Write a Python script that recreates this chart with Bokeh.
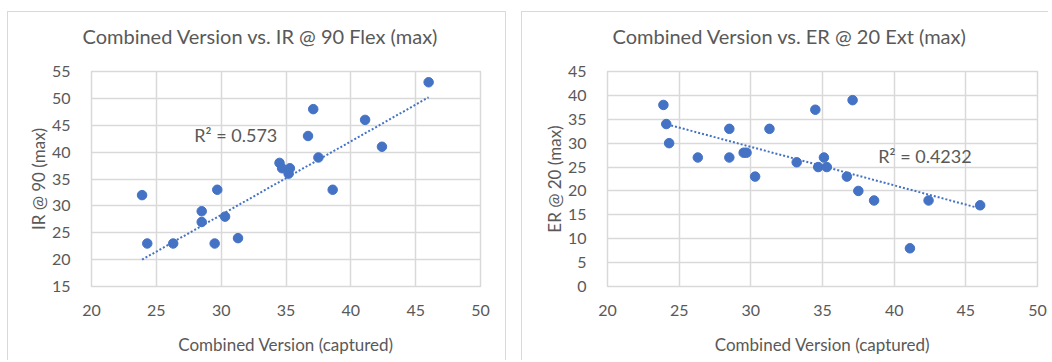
import numpy as np
from bokeh.plotting import figure
from bokeh.layouts import row
from bokeh.models import FixedTicker, Range1d, Label
from bokeh.embed import file_html
from bokeh.resources import INLINE

# Chart 1: Combined Version vs. IR @ 90 Flex (max)
x_ir = [23.9, 24.3, 26.3, 28.5, 28.5, 29.5, 29.7, 30.3, 31.3, 34.5,
        34.7, 35.2, 35.3, 36.7, 37.1, 37.5, 38.6, 41.1, 42.4, 46.0]
ir_90 = [32, 23, 23, 29, 27, 23, 33, 28, 24, 38,
         37, 36, 37, 43, 48, 39, 33, 46, 41, 53]
# linear trendline (slope, intercept) as shown in the chart
trend_ir = [1.367, -12.68]

# Chart 2: Combined Version vs. ER @ 20 Ext (max)
x_er = [23.9, 24.1, 24.3, 26.3, 28.5, 28.5, 29.5, 29.7, 30.3, 31.3, 33.2,
        34.5, 34.7, 35.1, 35.3, 36.7, 37.1, 37.5, 38.6, 41.1, 42.4, 46.0]
er_20 = [38, 34, 30, 27, 27, 33, 28, 28, 23, 33, 26,
         37, 25, 27, 25, 23, 39, 20, 18, 8, 18, 17]
trend_er = [-0.806, 53.41]

titles = ["Combined Version vs. IR @ 90 Flex (max)", "Combined Version vs. ER @ 20 Ext (max)"]
y_titles = ["IR @ 90 (max)", "ER @ 20 (max)"]
x_title = "Combined Version (captured)"
r2_labels = ["R² = 0.573", "R² = 0.4232"]
x_ticks = [20, 25, 30, 35, 40, 45, 50]
y_ticks_ir = [15, 20, 25, 30, 35, 40, 45, 50, 55]
y_ticks_er = [0, 5, 10, 15, 20, 25, 30, 35, 40, 45]

FONT = "Lato"
TXT = "#595959"
GRID = "#d9d9d9"
BLUE = "#4472C4"


def make(xs, ys, trend, title, ytitle, yticks, r2, r2pos, width, bl, br, toff, styles):
    p = figure(width=width, height=349, output_backend="svg", toolbar_location=None,
               x_range=Range1d(20, 50), y_range=Range1d(yticks[0], yticks[-1]),
               min_border_left=bl, min_border_right=br,
               min_border_top=59, min_border_bottom=75)
    p.title.text = title + "\n "
    p.title.text_font = FONT
    p.title.text_font_size = "20px"
    p.title.text_font_style = "normal"
    p.title.text_color = TXT
    p.title.align = "left"
    p.title.offset = toff
    p.title.standoff = 0
    for ax in (p.xaxis[0], p.yaxis[0]):
        ax.axis_line_color = None
        ax.major_tick_line_color = None
        ax.minor_tick_line_color = None
        ax.major_label_text_font = FONT
        ax.major_label_text_font_size = "16px"
        ax.major_label_text_color = TXT
        ax.axis_label_text_font = FONT
        ax.axis_label_text_font_size = "17px"
        ax.axis_label_text_font_style = "normal"
        ax.axis_label_text_color = TXT
    p.xaxis.ticker = FixedTicker(ticks=x_ticks)
    p.yaxis.ticker = FixedTicker(ticks=yticks)
    p.xaxis.axis_label = x_title
    p.yaxis.axis_label = ytitle
    p.xaxis.major_label_standoff = 12
    p.yaxis.major_label_standoff = 15
    p.xaxis.axis_label_standoff = 15
    p.yaxis.axis_label_standoff = 0
    p.xgrid.ticker = FixedTicker(ticks=x_ticks)
    p.ygrid.ticker = FixedTicker(ticks=yticks)
    p.grid.grid_line_color = GRID
    p.grid.grid_line_width = 1.5
    p.outline_line_color = GRID
    p.outline_line_width = 1.5

    lx = np.array([min(xs), max(xs)])
    ly = trend[0] * lx + trend[1]
    p.line(lx, ly, line_color=BLUE, line_width=2, line_dash="2 2")
    p.scatter(xs, ys, size=9.5, fill_color=BLUE, line_color=BLUE)
    p.add_layout(Label(x=r2pos[0], y=r2pos[1], text=r2, text_font=FONT,
                       text_font_size="18px", text_color=TXT, text_baseline="middle"))
    p.styles = styles
    return p


p1 = make(x_ir, ir_90, trend_ir, titles[0], y_titles[0], y_ticks_ir, r2_labels[0],
          (27.93, 43.1), 499, 83, 27, -9,
          {"border": "1px solid #d9d9d9", "border-bottom": "none",
           "margin-top": "11px", "margin-left": "7px"})
p2 = make(x_er, er_20, trend_er, titles[1], y_titles[1], y_ticks_er, r2_labels[1],
          (38.89, 27.3), 527, 85, 12, 5,
          {"border-left": "1px solid #d9d9d9", "border-top": "1px solid #d9d9d9",
           "margin-top": "11px"})

layout = row(p1, p2, spacing=15)
open("out.html", "w").write(file_html(layout, INLINE))
